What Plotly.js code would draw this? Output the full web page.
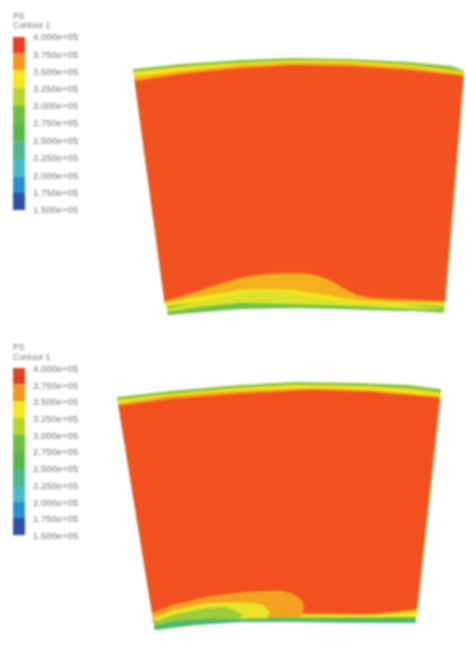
<!DOCTYPE html>
<html><head><meta charset="utf-8">
<script src="https://cdn.plot.ly/plotly-3.0.1.min.js"></script>
<style>html,body{margin:0;padding:0;background:#fff}#c{width:466px;height:647px}#c svg{filter:blur(1px)}</style>
</head><body><div id="c"></div>
<script>
// Legend
const legendLabels = ["4.000e+05","3.750e+05","3.500e+05","3.250e+05","3.000e+05","2.750e+05","2.500e+05","2.250e+05","2.000e+05","1.750e+05","1.500e+05"];
const legendColors = ["#e8401f","#f5951e","#f6e71c","#b5d62e","#6fbf44","#55b848","#4cb88a","#45bcc8","#2a8fd0","#2f4fa8"];
const legend1Y = [37,53.5,70,88,106,124,141.5,159,176.5,193,210];
const legend2Y = [368,384.5,401,418,435,452,469,486,502,518,535];
const legend1TextY = [38,55.5,73,90,107,124,141.5,159,176.5,194,211];
const legend2TextY = [370,386.5,403,420,436.5,453,470,487,503.5,520,537];

// Panel 1 contour regions
const p1EdgeX = [133,180,240,293,350,410,453,464,444,400,340,300,240,200,168];
const p1EdgeY = [69,64,60,58,59,62,66,71,313,310,308,307,309,311,315];
const p1YellowX = [133.4,180,240,293,350,410,464,444.6,400,350,310,270,233,193,165];
const p1YellowY = [72,67,63,60.5,61,65,72,306,304,303,299,293,297,303,306];
const p1OrangeX = [134,180,240,293,350,410,463.7,444.9,395,375,357,340,328,310,295,267,240,190,164.6];
const p1OrangeY = [77,71,65,62.5,63,67,74,303,302,301,300,298,295,293,290,289,290,298,303];
const p1RedX = [134.6,180,240,293,350,410,463.6,445,390,372,357,345,333,322,310,290,267,250,233,213,193,164.4];
const p1RedY = [81,74,68,65,66,70,76,301,299,298,295,289,282,277,274,273,274,276,280,286,293,301];
const p1LimeX = [167,195,215,235,262,285,310,350,400,445,400,340,300,240,200,167];
const p1LimeY = [309,303,298,294,291,292,297,302,304,309,309,307,306,307,309,312];
const p1GreenX = [167,200,240,300,350,444,400,340,300,240,200,168];
const p1GreenY = [312,307,303,304.5,306,311,311,309,308,309,312,315];

// Panel 2 contour regions
const p2EdgeX = [117,170,238,295,360,410,441,415.5,373,300,240,195,154.8];
const p2EdgeY = [397,391,385,382,383,385,389,623,623,622,622,625,630];
const p2YellowX = [117.5,170,238,295,360,410,440.7,416.5,373,302,270,207,173,153];
const p2YellowY = [400,394,388,385,386,389,393,617,617,617,613,603,610,618];
const p2OrangeX = [118,170,238,312,370,440.3,416.8,373,303,302,298,283,247,207,173,152.5];
const p2OrangeY = [404,396,391,388,390,396,611,615,615,606,597,591,592,597,605,615];
const p2RedX = [118.5,170,238,312,370,440,417,373,302,304,302,298,291,283,265,247,227,207,190,173,152];
const p2RedY = [406,399,394,390,392,398,609,614,613,607,601,597,593,591,591,592,594,597,601,605,613];
const p2BulgeX = [152.5,173,190,207,227,247,265,283,291,298,302,304,302,300,270,240,200,153];
const p2BulgeY = [613.5,605.5,601.5,597.5,594.5,592.5,591.5,591.5,593.5,597.5,601,607,613,617,617,618,621,622];
const p2YellowInnerX = [153,173,207,240,255,263,270,268,240,200,160];
const p2YellowInnerY = [618,610,603,602,603,605,612,618,619,621,624];
const p2LimeX = [153,173,207,225,233,243,238,200,160];
const p2LimeY = [622,615,608,607,610,615,620,622,627];
const p2GreenX = [153.5,175,210,240,300,416,415.5,373,300,240,195,154.8];
const p2GreenY = [626,621,619,619,619,618,623,623,622,622,625,630];

const pathTraces = [
  [p1EdgeX,p1EdgeY,"#8cc63f"],[p1YellowX,p1YellowY,"#f6e71c"],[p1OrangeX,p1OrangeY,"#f5b01e"],[p1RedX,p1RedY,"#f2521f"],
  [p1LimeX,p1LimeY,"#dbe22c"],[p1GreenX,p1GreenY,"#6fbf4a"],
  [p2EdgeX,p2EdgeY,"#8cc63f"],[p2YellowX,p2YellowY,"#f6e71c"],[p2OrangeX,p2OrangeY,"#f5a01e"],[p2RedX,p2RedY,"#f2501f"],
  [p2BulgeX,p2BulgeY,"#f5a01e"],[p2YellowInnerX,p2YellowInnerY,"#e8e428"],[p2LimeX,p2LimeY,"#9ccb3b"],[p2GreenX,p2GreenY,"#4fb86e"]
];
const data = pathTraces.map(([x,y,c]) => ({
  type:"scatter",mode:"lines",x:x.concat(x[0]),y:y.concat(y[0]),fill:"toself",fillcolor:c,
  line:{width:0,color:c},hoverinfo:"skip",showlegend:false
}));

function legendBars(ys, cols){
  return {type:"bar",orientation:"v",x:cols.map(()=>19),width:12,
    base:cols.map((_,i)=>ys[i]),y:cols.map((_,i)=>ys[i+1]-ys[i]),
    marker:{color:cols,line:{width:0}},hoverinfo:"skip",showlegend:false};
}
data.push(legendBars(legend1Y, legendColors));
data.push(legendBars(legend2Y, legendColors));
function legendText(ys){
  return {type:"scatter",mode:"text",x:ys.map(()=>33),y:ys,text:legendLabels,textposition:"middle right",
    textfont:{family:"Liberation Sans",size:9.5,color:"#777"},hoverinfo:"skip",showlegend:false};
}
data.push(legendText(legend1TextY)); data.push(legendText(legend2TextY));
data.push({type:"scatter",mode:"text",x:[13,13,13,13],y:[17,26,348,358],text:["PS","Contour 1","PS","Contour 1"],
  textposition:"middle right",textfont:{family:"Liberation Sans",size:8.5,color:"#777"},hoverinfo:"skip",showlegend:false});

Plotly.newPlot("c",data,{
  width:466,height:647,margin:{l:0,r:0,t:0,b:0},paper_bgcolor:"#fff",plot_bgcolor:"#fff",showlegend:false,barmode:"overlay",
  xaxis:{range:[0,466],visible:false,fixedrange:true},
  yaxis:{range:[647,0],visible:false,fixedrange:true}
},{displayModeBar:false,staticPlot:true});
</script></body></html>
